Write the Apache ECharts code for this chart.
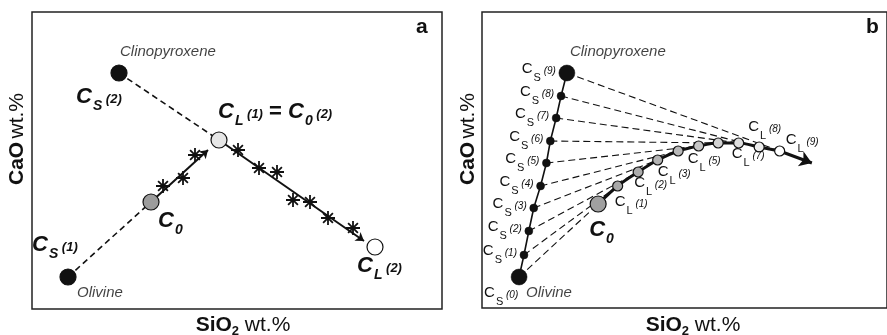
<!DOCTYPE html>
<html>
<head>
<meta charset="utf-8">
<script src="https://cdn.jsdelivr.net/npm/echarts@6/dist/echarts.min.js"></script>
<style>
  html, body { margin: 0; padding: 0; background: #fff; }
  #main { width: 887px; height: 335px; }
</style>
</head>
<body>
<div id="main"></div>
<script>
(function() {
  'use strict';

  // schematic units (no numeric scale on the original figure)
  // panel a
  var olivineA = [36, 32];
  var cpxA = [87, 236];
  var c0A = [119, 107];
  var cl1A = [187, 169];
  var cl2A = [343, 62];
  var arrowTipsA = [[176, 159], [332, 68]];
  var starsX = [131, 151, 163, 206, 227, 245, 261, 278, 296, 321];
  var starsY = [123, 131, 154, 159, 141, 137, 109, 107, 91, 81];

  // panel b: solids Cs(0)..Cs(9), liquids CL(1)..CL(9)
  var csX = [38, 43, 48, 53, 60, 66, 70, 76, 81, 87];
  var csY = [31, 53, 77, 100, 122, 145, 167, 190, 212, 235];
  var c0B = [119, 104];
  var clX = [139, 160, 180, 201, 222, 242, 263, 284, 305];
  var clY = [122, 136, 148, 157, 162, 165, 165, 161, 157];
  var clShade = ['#a8a8a8', '#acacac', '#b2b2b2', '#b8b8b8', '#c6c6c6', '#d2d2d2', '#dedede', '#ececec', '#ffffff'];
  var clLabelled = [1, 2, 3, 5, 7, 8, 9];
  var tipB = [338, 145];

  var FONT = 'Liberation Sans, Arial, sans-serif';
  var INK = '#111';

  // rich text styles (padding top pushes a token down, used for subscripts)
  var bigRich = {
    c: { fontSize: 22, fontWeight: 'bold', fontStyle: 'italic', fontFamily: FONT, color: INK },
    s: { fontSize: 14, fontWeight: 'bold', fontStyle: 'italic', fontFamily: FONT, color: INK, padding: [18, 0, 0, 1] },
    p: { fontSize: 13, fontWeight: 'bold', fontStyle: 'italic', fontFamily: FONT, color: INK, padding: [4, 0, 0, 0] },
    e: { fontSize: 22, fontWeight: 'bold', fontFamily: FONT, color: INK }
  };
  var smallRich = {
    c: { fontSize: 15, fontFamily: FONT, color: INK },
    s: { fontSize: 11, fontFamily: FONT, color: INK, padding: [17, 0, 0, 1] },
    p: { fontSize: 10, fontStyle: 'italic', fontFamily: FONT, color: INK, padding: [4, 0, 0, 0] }
  };

  function lbl(text, dx, dy, align, rich) {
    return {
      show: true,
      position: 'inside',
      align: align || 'left',
      verticalAlign: 'middle',
      offset: [dx, dy],
      formatter: text,
      rich: rich
    };
  }

  function nameLbl(text, dx, dy) {
    return {
      show: true,
      position: 'inside',
      align: 'left',
      verticalAlign: 'middle',
      offset: [dx, dy],
      formatter: text,
      fontFamily: FONT,
      fontStyle: 'italic',
      fontSize: 15,
      color: INK
    };
  }

  function pt(arr) { return [arr[0], arr[1]]; }
  function seg(a, b) { return { coords: [pt(a), pt(b)] }; }

  var circleStyle = function(fill) {
    return { color: fill, borderColor: INK, borderWidth: 1.2, opacity: 1 };
  };

  // ---------- panel a ----------
  var starData = [];
  for (var i = 0; i < starsX.length; i++) starData.push([starsX[i], starsY[i]]);

  var seriesA = [
    {
      type: 'lines', coordinateSystem: 'cartesian2d', xAxisIndex: 0, yAxisIndex: 0,
      z: 1, silent: true,
      lineStyle: { color: INK, width: 1.6, type: [6, 4], opacity: 1 },
      data: [seg(olivineA, c0A), seg(cpxA, cl1A)]
    },
    {
      type: 'lines', coordinateSystem: 'cartesian2d', xAxisIndex: 0, yAxisIndex: 0,
      z: 2, silent: true,
      symbol: ['none', 'arrow'], symbolSize: 8,
      lineStyle: { color: INK, width: 2, opacity: 1 },
      data: [seg(c0A, arrowTipsA[0]), seg(cl1A, arrowTipsA[1])]
    },
    {
      type: 'scatter', xAxisIndex: 0, yAxisIndex: 0, z: 3, silent: true,
      symbol: 'path://M10,0L10,20M0,10L20,10M3,3L17,17M3,17L17,3',
      symbolSize: 14,
      itemStyle: { color: 'none', borderColor: INK, borderWidth: 1.8, opacity: 1 },
      data: starData
    },
    {
      type: 'scatter', xAxisIndex: 0, yAxisIndex: 0, z: 4, silent: true,
      symbol: 'circle', symbolSize: 16,
      data: [
        { value: pt(olivineA), itemStyle: circleStyle('#111'),
          label: lbl('{c|C}{s|S}{p| (1)}', -36, -32, 'left', bigRich) },
        { value: pt(cpxA), itemStyle: circleStyle('#111'),
          label: lbl('{c|C}{s|S}{p| (2)}', -43, 24, 'left', bigRich) },
        { value: pt(c0A), itemStyle: circleStyle('#9c9c9c'),
          label: lbl('{c|C}{s|0}', 7, 19, 'left', bigRich) },
        { value: pt(cl1A), itemStyle: circleStyle('#e6e6e6'),
          label: lbl('{c|C}{s|L}{p| (1)}{e| = }{c|C}{s|0}{p| (2)}', -1, -28, 'left', bigRich) },
        { value: pt(cl2A), itemStyle: circleStyle('#ffffff'),
          label: lbl('{c|C}{s|L}{p| (2)}', -18, 19, 'left', bigRich) }
      ]
    },
    {
      type: 'scatter', xAxisIndex: 0, yAxisIndex: 0, z: 5, silent: true,
      symbolSize: 0,
      data: [
        { value: pt(olivineA), label: nameLbl('Olivine', 9, 16) },
        { value: pt(cpxA), label: nameLbl('Clinopyroxene', 1, -21) }
      ]
    }
  ];

  // ---------- panel b ----------
  var csData = [];
  for (var j = 0; j < csX.length; j++) {
    var big = (j === 0 || j === csX.length - 1);
    var item = { value: [csX[j], csY[j]], symbolSize: big ? 16 : 8 };
    if (j === 0) {
      item.label = lbl('{c|C}{s|S}{p| (0)}', -35, 16, 'left', smallRich);
    } else {
      item.label = lbl('{c|C}{s|S}{p| (' + j + ')}', big ? -11 : -7, -4, 'right', smallRich);
    }
    csData.push(item);
  }

  var liqData = [{ value: pt(c0B), symbolSize: 16, itemStyle: circleStyle('#a0a0a0'),
    label: lbl('{c|C}{s|0}', -9, 26, 'left', bigRich) }];
  var clOffsets = { 1: [-3, 16], 2: [-4, 11], 3: [0, 12], 5: [-11, 13], 7: [-7, 11], 8: [-11, -20], 9: [6, -11] };
  for (var k = 0; k < clX.length; k++) {
    var n = k + 1;
    var d = { value: [clX[k], clY[k]], symbolSize: 10, itemStyle: circleStyle(clShade[k]) };
    if (clLabelled.indexOf(n) >= 0) {
      d.label = lbl('{c|C}{s|L}{p| (' + n + ')}', clOffsets[n][0], clOffsets[n][1], 'left', smallRich);
    }
    liqData.push(d);
  }

  var tieLines = [seg([csX[0], csY[0]], c0B)];
  for (var m = 1; m < csX.length; m++) {
    tieLines.push(seg([csX[m], csY[m]], [clX[m - 1], clY[m - 1]]));
  }

  var chainB = [];
  for (var q = 0; q < csX.length; q++) chainB.push([csX[q], csY[q]]);
  var curveB = [pt(c0B)];
  for (var r = 0; r < clX.length; r++) curveB.push([clX[r], clY[r]]);

  var seriesB = [
    {
      type: 'lines', coordinateSystem: 'cartesian2d', xAxisIndex: 1, yAxisIndex: 1,
      z: 1, silent: true,
      lineStyle: { color: INK, width: 1.1, type: [7, 4], opacity: 1 },
      data: tieLines
    },
    {
      type: 'line', xAxisIndex: 1, yAxisIndex: 1, z: 2, silent: true,
      showSymbol: false, symbol: 'none',
      lineStyle: { color: INK, width: 1.6 },
      data: chainB
    },
    {
      type: 'line', xAxisIndex: 1, yAxisIndex: 1, z: 2, silent: true,
      showSymbol: false, symbol: 'none', smooth: 0.3,
      lineStyle: { color: INK, width: 3 },
      data: curveB
    },
    {
      type: 'lines', coordinateSystem: 'cartesian2d', xAxisIndex: 1, yAxisIndex: 1,
      z: 2, silent: true,
      symbol: ['none', 'arrow'], symbolSize: 12,
      lineStyle: { color: INK, width: 3, opacity: 1 },
      data: [seg([clX[clX.length - 1], clY[clY.length - 1]], tipB)]
    },
    {
      type: 'scatter', xAxisIndex: 1, yAxisIndex: 1, z: 4, silent: true,
      symbol: 'circle',
      itemStyle: { color: INK, borderColor: INK, borderWidth: 0.5, opacity: 1 },
      data: csData
    },
    {
      type: 'scatter', xAxisIndex: 1, yAxisIndex: 1, z: 4, silent: true,
      symbol: 'circle',
      data: liqData
    },
    {
      type: 'scatter', xAxisIndex: 1, yAxisIndex: 1, z: 5, silent: true,
      symbolSize: 0,
      data: [
        { value: [csX[0], csY[0]], label: nameLbl('Olivine', 7, 16) },
        { value: [csX[9], csY[9]], label: nameLbl('Clinopyroxene', 3, -21) }
      ]
    }
  ];

  var axisNameRich = {
    b: { fontSize: 21, fontWeight: 'bold', fontFamily: FONT, fill: INK },
    s: { fontSize: 13, fontWeight: 'bold', fontFamily: FONT, fill: INK, padding: [12, 0, 0, 0] },
    n: { fontSize: 21, fontFamily: FONT, fill: INK }
  };

  function hiddenAxis(idx, max) {
    return {
      type: 'value', gridIndex: idx, min: 0, max: max,
      axisLine: { show: false }, axisTick: { show: false },
      axisLabel: { show: false }, splitLine: { show: false }
    };
  }

  function axisTitle(text, x, y, rot) {
    return {
      type: 'text', x: x, y: y, rotation: rot,
      style: { text: text, rich: axisNameRich, align: 'center', verticalAlign: 'middle', fill: INK }
    };
  }

  var chart = echarts.init(document.getElementById('main'), null, { renderer: 'canvas' });
  chart.setOption({
    animation: false,
    backgroundColor: '#fff',
    grid: [
      { left: 32, top: 12, width: 410, height: 297, show: true, borderColor: '#222', borderWidth: 1.5, backgroundColor: 'transparent' },
      { left: 482, top: 12, width: 415, height: 296, show: true, borderColor: '#222', borderWidth: 1.5, backgroundColor: 'transparent' }
    ],
    xAxis: [hiddenAxis(0, 410), hiddenAxis(1, 415)],
    yAxis: [hiddenAxis(0, 297), hiddenAxis(1, 296)],
    graphic: [
      { type: 'text', left: 416, top: 17, style: { text: 'a', fontSize: 21, fontWeight: 'bold', fontFamily: FONT, fill: INK } },
      { type: 'text', left: 866, top: 17, style: { text: 'b', fontSize: 21, fontWeight: 'bold', fontFamily: FONT, fill: INK } },
      axisTitle('{b|SiO}{s|2}{n| wt.%}', 243, 325, 0),
      axisTitle('{b|SiO}{s|2}{n| wt.%}', 693, 325, 0),
      axisTitle('{b|CaO} {n|wt.%}', 17, 139, Math.PI / 2),
      axisTitle('{b|CaO} {n|wt.%}', 468, 139, Math.PI / 2)
    ],
    series: seriesA.concat(seriesB)
  });
}());
</script>
</body>
</html>
